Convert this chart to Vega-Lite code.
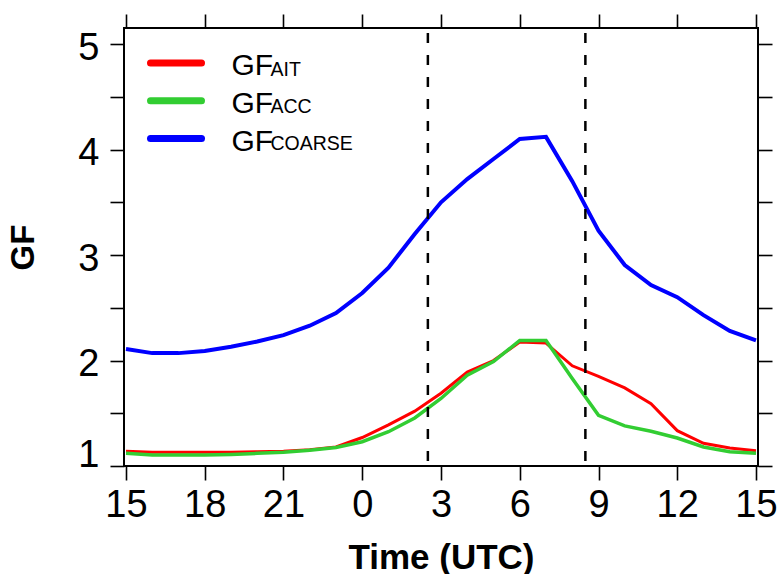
{
  "$schema": "https://vega.github.io/schema/vega-lite/v6.json",
  "width": 634,
  "height": 438,
  "autosize": {"type": "none"},
  "padding": {"left": 124, "top": 28, "right": 21, "bottom": 108},
  "background": "white",
  "config": {
    "font": "Liberation Sans",
    "view": {"stroke": "black", "strokeWidth": 2},
    "axis": {
      "grid": false,
      "domain": false,
      "tickColor": "black",
      "tickWidth": 1.6,
      "tickSize": 14,
      "labelFont": "Liberation Sans",
      "labelFontSize": 38,
      "labelColor": "black",
      "titleFont": "Liberation Sans",
      "titleFontSize": 32,
      "titleFontWeight": "bold",
      "titleColor": "black"
    }
  },
  "datasets": {
    "gf": [
      {"hour": 0, "series": "AIT", "gf": 1.14},
      {"hour": 1, "series": "AIT", "gf": 1.13},
      {"hour": 2, "series": "AIT", "gf": 1.13},
      {"hour": 3, "series": "AIT", "gf": 1.13},
      {"hour": 4, "series": "AIT", "gf": 1.13},
      {"hour": 5, "series": "AIT", "gf": 1.135},
      {"hour": 6, "series": "AIT", "gf": 1.14},
      {"hour": 7, "series": "AIT", "gf": 1.155},
      {"hour": 8, "series": "AIT", "gf": 1.18},
      {"hour": 9, "series": "AIT", "gf": 1.27},
      {"hour": 10, "series": "AIT", "gf": 1.39},
      {"hour": 11, "series": "AIT", "gf": 1.52},
      {"hour": 12, "series": "AIT", "gf": 1.69},
      {"hour": 13, "series": "AIT", "gf": 1.89},
      {"hour": 14, "series": "AIT", "gf": 2.0},
      {"hour": 15, "series": "AIT", "gf": 2.175},
      {"hour": 16, "series": "AIT", "gf": 2.165},
      {"hour": 17, "series": "AIT", "gf": 1.95},
      {"hour": 18, "series": "AIT", "gf": 1.85},
      {"hour": 19, "series": "AIT", "gf": 1.74},
      {"hour": 20, "series": "AIT", "gf": 1.59},
      {"hour": 21, "series": "AIT", "gf": 1.335},
      {"hour": 22, "series": "AIT", "gf": 1.215},
      {"hour": 23, "series": "AIT", "gf": 1.17},
      {"hour": 24, "series": "AIT", "gf": 1.145},
      {"hour": 0, "series": "ACC", "gf": 1.12},
      {"hour": 1, "series": "ACC", "gf": 1.105},
      {"hour": 2, "series": "ACC", "gf": 1.105},
      {"hour": 3, "series": "ACC", "gf": 1.105},
      {"hour": 4, "series": "ACC", "gf": 1.11},
      {"hour": 5, "series": "ACC", "gf": 1.12},
      {"hour": 6, "series": "ACC", "gf": 1.13},
      {"hour": 7, "series": "ACC", "gf": 1.15},
      {"hour": 8, "series": "ACC", "gf": 1.175},
      {"hour": 9, "series": "ACC", "gf": 1.23},
      {"hour": 10, "series": "ACC", "gf": 1.325},
      {"hour": 11, "series": "ACC", "gf": 1.455},
      {"hour": 12, "series": "ACC", "gf": 1.64},
      {"hour": 13, "series": "ACC", "gf": 1.86},
      {"hour": 14, "series": "ACC", "gf": 1.99},
      {"hour": 15, "series": "ACC", "gf": 2.19},
      {"hour": 16, "series": "ACC", "gf": 2.19},
      {"hour": 17, "series": "ACC", "gf": 1.83},
      {"hour": 18, "series": "ACC", "gf": 1.48},
      {"hour": 19, "series": "ACC", "gf": 1.38},
      {"hour": 20, "series": "ACC", "gf": 1.33},
      {"hour": 21, "series": "ACC", "gf": 1.265},
      {"hour": 22, "series": "ACC", "gf": 1.18},
      {"hour": 23, "series": "ACC", "gf": 1.135},
      {"hour": 24, "series": "ACC", "gf": 1.12},
      {"hour": 0, "series": "COARSE", "gf": 2.11},
      {"hour": 1, "series": "COARSE", "gf": 2.07},
      {"hour": 2, "series": "COARSE", "gf": 2.07},
      {"hour": 3, "series": "COARSE", "gf": 2.09},
      {"hour": 4, "series": "COARSE", "gf": 2.13},
      {"hour": 5, "series": "COARSE", "gf": 2.18},
      {"hour": 6, "series": "COARSE", "gf": 2.24},
      {"hour": 7, "series": "COARSE", "gf": 2.33},
      {"hour": 8, "series": "COARSE", "gf": 2.45},
      {"hour": 9, "series": "COARSE", "gf": 2.64},
      {"hour": 10, "series": "COARSE", "gf": 2.88},
      {"hour": 11, "series": "COARSE", "gf": 3.2},
      {"hour": 12, "series": "COARSE", "gf": 3.5},
      {"hour": 13, "series": "COARSE", "gf": 3.72},
      {"hour": 14, "series": "COARSE", "gf": 3.91},
      {"hour": 15, "series": "COARSE", "gf": 4.1},
      {"hour": 16, "series": "COARSE", "gf": 4.12},
      {"hour": 17, "series": "COARSE", "gf": 3.7},
      {"hour": 18, "series": "COARSE", "gf": 3.23},
      {"hour": 19, "series": "COARSE", "gf": 2.905},
      {"hour": 20, "series": "COARSE", "gf": 2.715},
      {"hour": 21, "series": "COARSE", "gf": 2.6},
      {"hour": 22, "series": "COARSE", "gf": 2.43},
      {"hour": 23, "series": "COARSE", "gf": 2.28},
      {"hour": 24, "series": "COARSE", "gf": 2.19}
    ],
    "events": [
      {"hour": 11.5},
      {"hour": 17.5}
    ]
  },
  "layer": [
    {
      "data": {"name": "gf"},
      "transform": [{"filter": {"field": "series", "oneOf": ["AIT", "ACC"]}}],
      "mark": {"type": "line"},
      "encoding": {
        "x": {
          "field": "hour", "type": "quantitative",
          "scale": {"domain": [-0.076, 24.076], "nice": false, "zero": false},
          "axis": {
            "orient": "bottom",
            "values": [0, 3, 6, 9, 12, 15, 18, 21, 24],
            "labelExpr": "'' + ((datum.value + 15) % 24)",
            "labelFlush": false,
            "labelPadding": 6,
            "title": "Time (UTC)",
            "titleFontSize": 35,
            "titlePadding": 16
          }
        },
        "y": {
          "field": "gf", "type": "quantitative",
          "scale": {"domain": [1, 5.152], "nice": false, "zero": false},
          "axis": {
            "orient": "left",
            "values": [1, 1.5, 2, 2.5, 3, 3.5, 4, 4.5, 5],
            "labelExpr": "datum.value % 1 === 0 ? format(datum.value, 'd') : ''",
            "labelFlush": true,
            "labelFlushOffset": 4,
            "labelOffset": 4,
            "labelPadding": 11,
            "title": "GF",
            "titleFontSize": 33,
            "titlePadding": 37
          }
        },
        "color": {
          "field": "series", "type": "nominal",
          "scale": {"domain": ["AIT", "ACC", "COARSE"], "range": ["#ff0000", "#32cd32", "#0000ff"]},
          "legend": {
            "orient": "top-left",
            "offset": 20,
            "title": null,
            "padding": 0,
            "symbolType": "stroke",
            "symbolSize": 2601,
            "symbolStrokeWidth": 7,
            "symbolOffset": 3,
            "labelOffset": 26.5,
            "labelFontSize": 30,
            "labelFont": "Liberation Sans",
            "labelColor": "black",
            "labelExpr": "'GF'",
            "clipHeight": 30,
            "rowPadding": 4.8,
            "encode": {
              "symbols": {"update": {"strokeCap": {"value": "round"}}},
              "labels": {"update": {"dy": {"value": 3}}}
            }
          }
        },
        "strokeWidth": {
          "field": "series", "type": "nominal",
          "scale": {"domain": ["AIT", "ACC", "COARSE"], "range": [3, 4, 5]},
          "legend": {
            "orient": "none",
            "legendX": 20,
            "legendY": 20,
            "title": null,
            "padding": 0,
            "symbolSize": 1,
            "symbolOpacity": 0,
            "labelFontSize": 19.5,
            "labelFont": "Liberation Sans",
            "labelColor": "black",
            "labelOffset": 107,
            "labelBaseline": "alphabetic",
            "clipHeight": 30,
            "rowPadding": 4.8,
            "encode": {
              "labels": {"update": {"dy": {"value": 13}}}
            }
          }
        }
      }
    },
    {
      "data": {"name": "gf"},
      "transform": [{"filter": {"field": "series", "equal": "COARSE"}}],
      "mark": {"type": "line"},
      "encoding": {
        "x": {"field": "hour", "type": "quantitative", "axis": null},
        "y": {
          "field": "gf", "type": "quantitative",
          "axis": {
            "orient": "right",
            "values": [1, 1.5, 2, 2.5, 3, 3.5, 4, 4.5, 5],
            "labels": false,
            "title": null
          }
        },
        "color": {"field": "series", "type": "nominal"},
        "strokeWidth": {"field": "series", "type": "nominal"}
      }
    },
    {
      "data": {"name": "events"},
      "mark": {"type": "rule", "color": "black", "strokeWidth": 2.5, "strokeDash": [10, 12], "strokeDashOffset": 17},
      "encoding": {
        "x": {
          "field": "hour", "type": "quantitative",
          "axis": {
            "orient": "top",
            "values": [0, 3, 6, 9, 12, 15, 18, 21, 24],
            "labels": false,
            "title": null
          }
        }
      }
    }
  ],
  "resolve": {"axis": {"x": "independent", "y": "independent"}}
}
